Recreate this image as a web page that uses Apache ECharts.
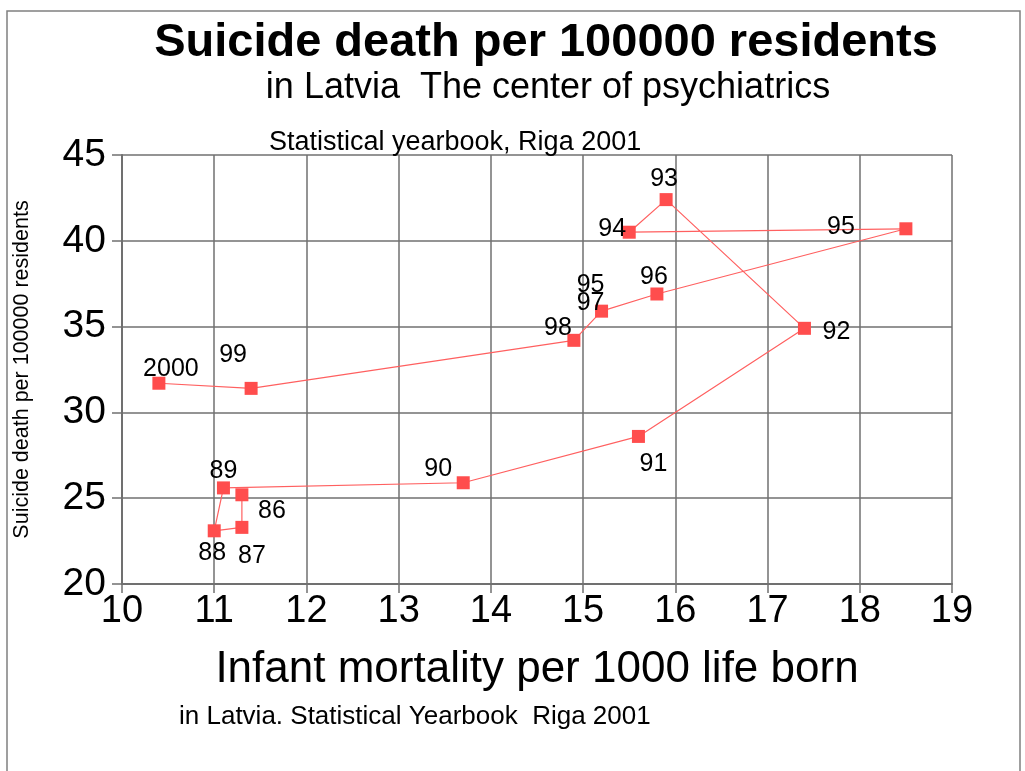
<!DOCTYPE html>
<html>
<head>
<meta charset="utf-8">
<script src="https://cdn.jsdelivr.net/npm/echarts@6/dist/echarts.min.js"></script>
<style>
  html, body { margin: 0; padding: 0; background: #fff; }
  #chart { width: 1025px; height: 771px; }
</style>
</head>
<body>
<div id="chart"></div>
<script>
// data
const years = ['86', '87', '88', '89', '90', '91', '92', '93', '94', '95', '96', '97', '98', '99', '2000']
const infantMortality = [11.3, 11.3, 11.0, 11.1, 13.7, 15.6, 17.4, 15.9, 15.5, 18.5, 15.8, 15.2, 14.9, 11.4, 10.4]
const suicideRate = [25.2, 23.3, 23.1, 25.6, 25.9, 28.6, 34.9, 42.4, 40.5, 40.7, 36.9, 35.9, 34.2, 31.4, 31.7]
// the original has a stray extra "95" above the 97 point
const pointLabels = ['86', '87', '88', '89', '90', '91', '92', '93', '94', '95', '96', '95\n97', '98', '99', '2000']

// label offsets from the marker centre (style only)
const labelOffsets = [
  [30, 16], [10, 29], [-2, 22], [0, -17], [-25, -14], [15, 28], [32, 4], [-2, -21],
  [-17, -3], [-65, -2], [-3, -17], [-11, -17], [-16, -12], [-18, -33], [12, -14]
]

const font = '"Liberation Sans", Arial, sans-serif'
const gridColor = '#707070'

const chart = echarts.init(document.getElementById('chart'))

const seriesData = years.map((y, i) => ({
  name: y,
  value: [infantMortality[i], suicideRate[i]],
  label: {
    show: true,
    position: 'inside',
    offset: labelOffsets[i],
    formatter: pointLabels[i]
  }
}))

const option = {
  backgroundColor: '#fff',
  animation: false,
  title: [
    {
      text: 'Suicide death per 100000 residents',
      left: 541, top: 15, textAlign: 'center',
      textStyle: { fontFamily: font, fontSize: 47, fontWeight: 'bold', color: '#000' }
    },
    {
      text: 'in Latvia  The center of psychiatrics',
      left: 543, top: 65, textAlign: 'center',
      textStyle: { fontFamily: font, fontSize: 36, fontWeight: 'normal', color: '#000' }
    },
    {
      text: 'Statistical yearbook, Riga 2001',
      left: 264, top: 124,
      textStyle: { fontFamily: font, fontSize: 27, fontWeight: 'normal', color: '#000' }
    },
    {
      text: 'in Latvia. Statistical Yearbook  Riga 2001',
      left: 174, top: 699,
      textStyle: { fontFamily: font, fontSize: 26, fontWeight: 'normal', color: '#000' }
    }
  ],
  graphic: [
    {
      type: 'rect',
      shape: { x: 7, y: 11, width: 1013, height: 800 },
      style: { fill: 'none', stroke: '#808080', lineWidth: 1.5 },
      silent: true
    }
  ],
  grid: { left: 122, right: 73, top: 155, bottom: 187 },
  xAxis: {
    type: 'value',
    min: 10, max: 19, interval: 1,
    name: 'Infant mortality per 1000 life born',
    nameLocation: 'middle',
    nameGap: 64,
    nameTextStyle: { fontFamily: font, fontSize: 44, color: '#000' },
    axisLine: { show: true, lineStyle: { color: gridColor, width: 2 } },
    axisTick: { show: true, length: 9, inside: false, lineStyle: { color: gridColor, width: 1.5 } },
    axisLabel: { fontFamily: font, fontSize: 38, color: '#000', margin: 9 },
    splitLine: { show: true, lineStyle: { color: gridColor, width: 1.5 } }
  },
  yAxis: {
    type: 'value',
    min: 20, max: 45, interval: 5,
    name: 'Suicide death per 100000 residents',
    nameLocation: 'middle',
    nameGap: 89,
    nameRotate: 90,
    nameTextStyle: { fontFamily: font, fontSize: 21.5, color: '#000' },
    axisLine: { show: true, lineStyle: { color: gridColor, width: 2 } },
    axisTick: { show: true, length: 10, lineStyle: { color: gridColor, width: 1.5 } },
    axisLabel: { fontFamily: font, fontSize: 39, color: '#000', margin: 16 },
    splitLine: { show: true, lineStyle: { color: gridColor, width: 1.5 } }
  },
  series: [
    {
      type: 'line',
      data: seriesData,
      symbol: 'rect',
      symbolSize: 13,
      lineStyle: { color: '#ff6060', width: 1.2 },
      itemStyle: { color: '#ff4d4d' },
      label: { fontFamily: font, fontSize: 25, color: '#000', lineHeight: 18 },
      emphasis: { disabled: true }
    }
  ]
}

chart.setOption(option)
</script>
</body>
</html>
